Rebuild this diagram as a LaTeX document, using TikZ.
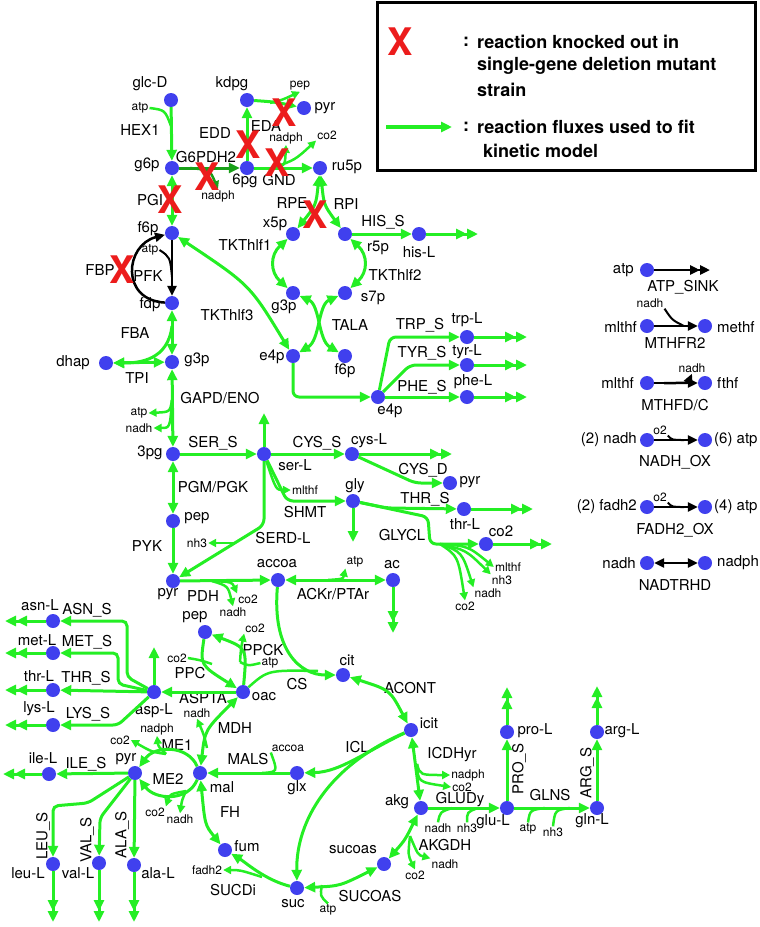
\documentclass[tikz,border=0pt]{standalone}
\usepackage{fontspec}
\setmainfont{TeX Gyre Heros}
\usetikzlibrary{arrows.meta}
\definecolor{MetBlue}{RGB}{64,64,238}
\definecolor{FluxGreen}{RGB}{36,238,36}
\definecolor{FluxDark}{RGB}{24,160,24}
\definecolor{KORed}{RGB}{236,28,28}

\begin{document}
\begin{tikzpicture}[x=1pt,y=-1pt,>={Triangle[length=11pt,width=10pt]},
    met/.style={circle,fill=MetBlue,inner sep=0pt,minimum size=14pt},
    mlab/.style={font=\fontsize{15}{16}\selectfont,inner sep=0pt},
    rlab/.style={font=\fontsize{15}{16}\selectfont,inner sep=0pt},
    cof/.style={font=\fontsize{12}{13}\selectfont,inner sep=1pt},
    ko/.style={font=\bfseries\fontsize{38}{38}\selectfont,text=KORed,inner sep=0pt},
    leg/.style={font=\bfseries\fontsize{18}{20}\selectfont,inner sep=0pt,anchor=west},
    flux/.style={draw=FluxGreen,line width=3pt,->},
    both/.style={draw=FluxGreen,line width=3pt,<->},
    sink/.style={draw=FluxGreen,line width=3pt,->>},
    sflux/.style={draw=FluxGreen,line width=2.5pt,-{Triangle[length=8pt,width=8pt]}},
    side/.style={draw=FluxGreen,line width=2.5pt},
    blk/.style={draw=black,line width=2.5pt,-{Triangle[length=10pt,width=9pt]}},
    blkboth/.style={draw=black,line width=2.5pt,{Triangle[length=10pt,width=9pt]}-{Triangle[length=10pt,width=9pt]}},
    blksink/.style={draw=black,line width=2.5pt,-{Triangle[length=10pt,width=9pt]Triangle[length=10pt,width=9pt]}},
    blkside/.style={draw=black,line width=2pt}]
\useasboundingbox (0,0) rectangle (760,927);

% legend
\draw[line width=3pt] (377,2) rectangle (755,170);
\node[ko] (legX) at (400,42) {X};
\node[leg] (legc1) at (463,42) {:};
\node[leg] (leg1) at (477,42) {reaction knocked out in};
\node[leg] (leg2) at (477,66) {single-gene deletion mutant};
\node[leg] (leg3) at (477,90) {strain};
\coordinate (legA) at (386,127);
\coordinate (legB) at (452,127);
\draw[flux,line width=4pt] (legA) -- (legB);
\node[leg] (legc2) at (463,127) {:};
\node[leg] (leg4) at (477,127) {reaction fluxes used to fit};
\node[leg] (leg5) at (483,151) {kinetic model};

% metabolites
\node[met] (glcD) at (171,100) {};
\node[met] (g6p) at (172,168) {};
\node[met] (kdpg) at (247,100) {};
\node[met] (pyrE) at (304,108) {};
\node[met] (pg6) at (247,168) {};
\node[met] (ru5p) at (320,168) {};
\node[met] (f6p) at (172,233) {};
\node[met] (fdp) at (172,303) {};
\node[met] (g3p) at (172,362) {};
\node[met] (dhap) at (106,363) {};
\node[met] (pg3) at (173,454) {};
\node[met] (pep) at (173,521) {};
\node[met] (pyr) at (173,581) {};
\node[met] (x5p) at (293,234) {};
\node[met] (r5p) at (345,234) {};
\node[met] (hisL) at (419,234) {};
\node[met] (g3pT) at (293,293) {};
\node[met] (s7p) at (345,293) {};
\node[met] (e4p) at (293,356) {};
\node[met] (f6pT) at (345,356) {};
\node[met] (e4pA) at (378,397) {};
\node[met] (trpL) at (467,337) {};
\node[met] (tyrL) at (467,365) {};
\node[met] (pheL) at (467,397) {};
\node[met] (serL) at (264,454) {};
\node[met] (cysL) at (352,454) {};
\node[met] (pyrC) at (450,483) {};
\node[met] (gly) at (353,501) {};
\node[met] (thrL) at (464,509) {};
\node[met] (co2) at (486,544) {};
\node[met] (accoa) at (278,580) {};
\node[met] (ac) at (393,580) {};
\node[met] (pepO) at (205,632) {};
\node[met] (oac) at (243,692) {};
\node[met] (aspL) at (154,692) {};
\node[met] (asnL) at (53,621) {};
\node[met] (metL) at (53,653) {};
\node[met] (thrLa) at (53,690) {};
\node[met] (lysL) at (53,725) {};
\node[met] (cit) at (343,675) {};
\node[met] (icit) at (411,730) {};
\node[met] (ileL) at (49,774) {};
\node[met] (pyrM) at (135,773) {};
\node[met] (mal) at (200,773) {};
\node[met] (glx) at (297,773) {};
\node[met] (akg) at (421,808) {};
\node[met] (gluL) at (507,808) {};
\node[met] (glnL) at (597,808) {};
\node[met] (proL) at (507,732) {};
\node[met] (argL) at (597,732) {};
\node[met] (leuL) at (53,864) {};
\node[met] (valL) at (99,863) {};
\node[met] (alaL) at (134,865) {};
\node[met] (fum) at (225,850) {};
\node[met] (suc) at (297,888) {};
\node[met] (sucoas) at (384,864) {};
\node[met] (atpS) at (647,270) {};
\node[met] (mlthfA) at (647,326) {};
\node[met] (methf) at (705,326) {};
\node[met] (mlthfB) at (647,383) {};
\node[met] (fthf) at (705,383) {};
\node[met] (nadhO) at (647,440) {};
\node[met] (atpO) at (705,440) {};
\node[met] (fadhF) at (647,507) {};
\node[met] (atpF) at (705,507) {};
\node[met] (nadhT) at (647,563) {};
\node[met] (nadphT) at (705,563) {};

% metabolite names
\node[mlab] (t-glcD) at (150,84) {glc-D};
\node[mlab] (t-g6p) at (147,165) {g6p};
\node[mlab] (t-kdpg) at (232,84) {kdpg};
\node[mlab] (t-pyrE) at (325,108) {pyr};
\node[mlab] (t-pg6) at (245,181) {6pg};
\node[mlab] (t-ru5p) at (347,167) {ru5p};
\node[mlab] (t-f6p) at (148,229) {f6p};
\node[mlab] (t-fdp) at (150,305) {fdp};
\node[mlab] (t-g3p) at (197,360) {g3p};
\node[mlab] (t-dhap) at (73,363) {dhap};
\node[mlab] (t-pg3) at (150,453) {3pg};
\node[mlab] (t-pep) at (197,518) {pep};
\node[mlab] (t-pyr) at (168,594) {pyr};
\node[mlab] (t-x5p) at (275,224) {x5p};
\node[mlab] (t-r5p) at (378,248) {r5p};
\node[mlab] (t-hisL) at (419,252) {his-L};
\node[mlab] (t-g3pT) at (284,307) {g3p};
\node[mlab] (t-s7p) at (373,298) {s7p};
\node[mlab] (t-e4p) at (272,357) {e4p};
\node[mlab] (t-f6pT) at (345,371) {f6p};
\node[mlab] (t-e4pA) at (390,411) {e4p};
\node[mlab] (t-trpL) at (467,320) {trp-L};
\node[mlab] (t-tyrL) at (467,352) {tyr-L};
\node[mlab] (t-pheL) at (473,382) {phe-L};
\node[mlab] (t-serL) at (295,465) {ser-L};
\node[mlab] (t-cysL) at (369,441) {cys-L};
\node[mlab] (t-pyrC) at (470,482) {pyr};
\node[mlab] (t-gly) at (355,486) {gly};
\node[mlab] (t-thrL) at (465,524) {thr-L};
\node[mlab] (t-co2) at (501,531) {co2};
\node[mlab] (t-accoa) at (277,564) {accoa};
\node[mlab] (t-ac) at (392,565) {ac};
\node[mlab] (t-pepO) at (195,617) {pep};
\node[mlab] (t-oac) at (264,697) {oac};
\node[mlab] (t-aspL) at (154,711) {asp-L};
\node[mlab] (t-asnL) at (40,605) {asn-L};
\node[mlab] (t-metL) at (37,640) {met-L};
\node[mlab] (t-thrLa) at (39,676) {thr-L};
\node[mlab] (t-lysL) at (39,709) {lys-L};
\node[mlab] (t-cit) at (347,660) {cit};
\node[mlab] (t-icit) at (429,723) {icit};
\node[mlab] (t-ileL) at (43,758) {ile-L};
\node[mlab] (t-pyrM) at (126,759) {pyr};
\node[mlab] (t-mal) at (222,787) {mal};
\node[mlab] (t-glx) at (297,788) {glx};
\node[mlab] (t-akg) at (397,802) {akg};
\node[mlab] (t-gluL) at (493,822) {glu-L};
\node[mlab] (t-glnL) at (592,821) {gln-L};
\node[mlab] (t-proL) at (535,731) {pro-L};
\node[mlab] (t-argL) at (622,731) {arg-L};
\node[mlab] (t-leuL) at (28,873) {leu-L};
\node[mlab] (t-valL) at (78,873) {val-L};
\node[mlab] (t-alaL) at (158,873) {ala-L};
\node[mlab] (t-fum) at (247,846) {fum};
\node[mlab] (t-suc) at (293,904) {suc};
\node[mlab] (t-sucoas) at (353,850) {sucoas};
\node[mlab,anchor=east] (t-atpS) at (634,270) {atp};
\node[mlab,anchor=east] (t-mlthfA) at (637,327) {mlthf};
\node[mlab,anchor=west] (t-methf) at (717,327) {methf};
\node[mlab,anchor=east] (t-mlthfB) at (634,383) {mlthf};
\node[mlab,anchor=west] (t-fthf) at (717,383) {fthf};
\node[mlab,anchor=east] (t-nadhO) at (637,440) {(2) nadh};
\node[mlab,anchor=west] (t-atpO) at (714,440) {(6) atp};
\node[mlab,anchor=east] (t-fadhF) at (637,507) {(2) fadh2};
\node[mlab,anchor=west] (t-atpF) at (714,507) {(4) atp};
\node[mlab,anchor=east] (t-nadhT) at (636,563) {nadh};
\node[mlab,anchor=west] (t-nadphT) at (717,563) {nadph};

% reaction names
\node[rlab] (r-hex) at (140,130) {HEX1};
\node[rlab] (r-g6pdh) at (206,157) {G6PDH2};
\node[rlab] (r-edd) at (215,133) {EDD};
\node[rlab] (r-eda) at (266,126) {EDA};
\node[rlab] (r-gnd) at (279,180) {GND};
\node[rlab] (r-pgi) at (150,200) {PGI};
\node[rlab] (r-fbp) at (100,270) {FBP};
\node[rlab] (r-pfk) at (148,276) {PFK};
\node[rlab] (r-fba) at (135,333) {FBA};
\node[rlab] (r-tpi) at (137,378) {TPI};
\node[rlab] (r-gapd) at (220,398) {GAPD/ENO};
\node[rlab] (r-pgm) at (213,487) {PGM/PGK};
\node[rlab] (r-pyk) at (147,546) {PYK};
\node[rlab] (r-rpe) at (292,203) {RPE};
\node[rlab] (r-rpi) at (346,204) {RPI};
\node[rlab] (r-his) at (383,222) {HIS\_S};
\node[rlab] (r-tk1) at (245,245) {TKThlf1};
\node[rlab] (r-tk2) at (395,275) {TKThlf2};
\node[rlab] (r-tk3) at (227,315) {TKThlf3};
\node[rlab] (r-tala) at (350,325) {TALA};
\node[rlab] (r-trp) at (420,325) {TRP\_S};
\node[rlab] (r-tyr) at (422,353) {TYR\_S};
\node[rlab] (r-phe) at (422,387) {PHE\_S};
\node[rlab] (r-ser) at (213,443) {SER\_S};
\node[rlab] (r-cys) at (317,443) {CYS\_S};
\node[rlab] (r-cysd) at (423,470) {CYS\_D};
\node[rlab] (r-shmt) at (305,512) {SHMT};
\node[rlab] (r-serd) at (283,538) {SERD-L};
\node[rlab] (r-thr) at (425,499) {THR\_S};
\node[rlab] (r-glycl) at (402,535) {GLYCL};
\node[rlab] (r-pdh) at (203,596) {PDH};
\node[rlab] (r-ack) at (333,594) {ACKr/PTAr};
\node[rlab] (r-asn) at (87,610) {ASN\_S};
\node[rlab] (r-met) at (87,642) {MET\_S};
\node[rlab] (r-thra) at (86,678) {THR\_S};
\node[rlab] (r-lys) at (88,714) {LYS\_S};
\node[rlab] (r-ppc) at (190,673) {PPC};
\node[rlab] (r-ppck) at (263,650) {PPCK};
\node[rlab] (r-aspta) at (203,698) {ASPTA};
\node[rlab] (r-mdh) at (235,728) {MDH};
\node[rlab] (r-cs) at (297,684) {CS};
\node[rlab] (r-acont) at (410,688) {ACONT};
\node[rlab] (r-icl) at (357,747) {ICL};
\node[rlab] (r-icdh) at (452,755) {ICDHyr};
\node[rlab] (r-me1) at (177,745) {ME1};
\node[rlab] (r-me2) at (168,779) {ME2};
\node[rlab] (r-mals) at (248,759) {MALS};
\node[rlab] (r-ile) at (86,764) {ILE\_S};
\node[rlab,rotate=90] (r-leu) at (43,836) {LEU\_S};
\node[rlab,rotate=90] (r-val) at (87,840) {VAL\_S};
\node[rlab,rotate=90] (r-ala) at (122,835) {ALA\_S};
\node[rlab] (r-fh) at (230,812) {FH};
\node[rlab] (r-sucd) at (233,890) {SUCDi};
\node[rlab] (r-sucoas) at (370,896) {SUCOAS};
\node[rlab] (r-akgdh) at (445,845) {AKGDH};
\node[rlab] (r-glud) at (460,800) {GLUDy};
\node[rlab,rotate=90] (r-pro) at (519,769) {PRO\_S};
\node[rlab] (r-glns) at (550,795) {GLNS};
\node[rlab,rotate=90] (r-arg) at (587,773) {ARG\_S};
\node[rlab] (r-sink) at (683,287) {ATP\_SINK};
\node[rlab] (r-mthfr) at (675,343) {MTHFR2};
\node[rlab] (r-mthfd) at (675,405) {MTHFD/C};
\node[rlab] (r-nadhox) at (675,462) {NADH\_OX};
\node[rlab] (r-fadhox) at (675,530) {FADH2\_OX};
\node[rlab] (r-nadtr) at (675,585) {NADTRHD};

% cofactors
\node[cof] (c-hexatp) at (140,108) {atp};
\node[cof] (c-edapep) at (300,86) {pep};
\node[cof] (c-gndnadph) at (286,138) {nadph};
\node[cof] (c-gndco2) at (327,135) {co2};
\node[cof] (c-g6pnadph) at (218,196) {nadph};
\node[cof] (c-pfkatp) at (150,250) {atp};
\node[cof] (c-gapatp) at (139,413) {atp};
\node[cof] (c-gapnadh) at (139,428) {nadh};
\node[cof] (c-shmt) at (305,490) {mlthf};
\node[cof] (c-serdnh3) at (197,543) {nh3};
\node[cof] (c-gcmlthf) at (508,567) {mlthf};
\node[cof] (c-gcnh3) at (502,580) {nh3};
\node[cof] (c-gcnadh) at (488,593) {nadh};
\node[cof] (c-gcco2) at (465,606) {co2};
\node[cof] (c-pdhco2) at (248,599) {co2};
\node[cof] (c-pdhnadh) at (233,612) {nadh};
\node[cof] (c-ackatp) at (355,562) {atp};
\node[cof] (c-ppcco2) at (177,658) {co2};
\node[cof] (c-ppckco2) at (255,628) {co2};
\node[cof] (c-ppckatp) at (270,663) {atp};
\node[cof] (c-mdhnadh) at (197,713) {nadh};
\node[cof] (c-me1nadph) at (157,729) {nadph};
\node[cof] (c-me1co2) at (120,740) {co2};
\node[cof] (c-me2co2) at (155,812) {co2};
\node[cof] (c-me2nadh) at (180,819) {nadh};
\node[cof] (c-malsacc) at (288,748) {accoa};
\node[cof] (c-icnadph) at (468,775) {nadph};
\node[cof] (c-icco2) at (462,787) {co2};
\node[cof] (c-gdnadh) at (438,828) {nadh};
\node[cof] (c-gdnh3) at (467,828) {nh3};
\node[cof] (c-glnsatp) at (528,829) {atp};
\node[cof] (c-glnsnh3) at (553,832) {nh3};
\node[cof] (c-akgnadh) at (445,864) {nadh};
\node[cof] (c-akgco2) at (415,875) {co2};
\node[cof] (c-fadh2) at (207,870) {fadh2};
\node[cof] (c-sucatp) at (328,910) {atp};
\node[cof] (c-mthnadh) at (650,303) {nadh};
\node[cof] (c-mfdnadh) at (692,368) {nadh};
\node[cof] (c-oxo2) at (660,430) {o2};
\node[cof] (c-fado2) at (660,497) {o2};

% free ends and branch points
\coordinate (hisLx) at (478,234);
\coordinate (trpLx) at (527,337);
\coordinate (tyrLx) at (527,365);
\coordinate (pheLx) at (527,397);
\coordinate (cysLx) at (452,454);
\coordinate (thrLx) at (533,509);
\coordinate (co2x) at (552,544);
\coordinate (serLx) at (264,413);
\coordinate (glyx) at (353,542);
\coordinate (acx) at (393,633);
\coordinate (aspLx) at (154,647);
\coordinate (asnLx) at (5,621);
\coordinate (metLx) at (5,653);
\coordinate (thrLax) at (5,690);
\coordinate (lysLx) at (5,725);
\coordinate (ileLx) at (3,774);
\coordinate (leuLx) at (53,922);
\coordinate (valLx) at (99,922);
\coordinate (alaLx) at (134,922);
\coordinate (proLx) at (507,687);
\coordinate (argLx) at (597,686);
\coordinate (atpSx) at (710,270);
\coordinate (hexj) at (171,126);
\coordinate (edaj) at (270,103);
\coordinate (gndj) at (272,168);
\coordinate (g6pj) at (190,168);
\coordinate (pfkj) at (172,277);
\coordinate (fbaj) at (172,326);
\coordinate (gapj) at (172,400);
\coordinate (serdj) at (235,543);
\coordinate (glycj) at (440,544);
\coordinate (pdhj) at (212,581);
\coordinate (ackj) at (328,580);
\coordinate (csj) at (318,671);
\coordinate (ppcj) at (212,664);
\coordinate (ppckj) at (240,662);
\coordinate (mdhj) at (207,748);
\coordinate (me1j) at (166,754);
\coordinate (me2j) at (186,791);
\coordinate (malsj) at (262,773);
\coordinate (icdhj) at (417,764);
\coordinate (akgdhj) at (410,836);
\coordinate (gludj1) at (452,808);
\coordinate (gludj2) at (478,808);
\coordinate (glnsj1) at (545,808);
\coordinate (glnsj2) at (570,808);
\coordinate (sucdj) at (262,877);
\coordinate (sucoasj) at (322,885);
\coordinate (mthj) at (684,326);
\coordinate (mfdj) at (664,383);
\coordinate (oxj) at (684,440);
\coordinate (fadj) at (684,507);

% glycolysis and pentose phosphate
\draw[flux] (glcD) -- (g6p);
\draw[side] (c-hexatp.east) .. controls (165,110) .. (hexj);
\draw[flux,draw=FluxDark] (g6p) -- (pg6);
\draw[sflux,draw=FluxDark] (g6pj) .. controls (210,170) .. (c-g6pnadph.north);
\draw[flux] (pg6) -- (kdpg);
\draw[flux] (kdpg) .. controls (275,102) .. (pyrE);
\draw[sflux] (edaj) .. controls (282,100) .. (c-edapep.south);
\draw[flux] (pg6) -- (ru5p);
\draw[sflux] (gndj) .. controls (285,166) .. (c-gndnadph.south);
\draw[sflux] (gndj) .. controls (295,160) .. (c-gndco2.south west);
\draw[both] (g6p) -- (f6p);
\draw[blk] (f6p) -- (fdp);
\draw[blkside] (c-pfkatp.east) .. controls (170,257) .. (pfkj);
\draw[blk] (fdp) .. controls (120,300) and (125,245) .. (f6p);
\draw[both] (fdp) -- (g3p);
\draw[flux] (fbaj) .. controls (168,360) and (140,363) .. (dhap);
\draw[both] (dhap) -- (g3p);
\draw[both] (g3p) -- (pg3);
\draw[sflux] (gapj) .. controls (170,412) .. (c-gapatp.east);
\draw[sflux] (gapj) .. controls (170,428) .. (c-gapnadh.east);
\draw[both] (pg3) -- (pep);
\draw[flux] (pep) -- (pyr);
\draw[both] (ru5p) .. controls (316,205) .. (x5p);
\draw[both] (ru5p) .. controls (324,205) .. (r5p);
\draw[both] (x5p) .. controls (270,255) and (270,272) .. (g3pT);
\draw[both] (r5p) .. controls (368,255) and (368,272) .. (s7p);
\draw[both] (g3pT) .. controls (320,305) and (318,340) .. (f6pT);
\draw[both] (s7p) .. controls (318,305) and (320,340) .. (e4p);
\draw[both] (e4p) .. controls (250,285) .. (f6p);
\draw[flux] (r5p) -- (hisL);
\draw[sink] (hisL) -- (hisLx);
\draw[flux,rounded corners=6pt] (e4p) -- (293,397) -- (e4pA);
\draw[flux,rounded corners=6pt] (e4pA) -- (390,337) -- (trpL);
\draw[flux,rounded corners=6pt] (e4pA) -- (410,365) -- (tyrL);
\draw[flux] (e4pA) -- (pheL);
\draw[sink] (trpL) -- (trpLx);
\draw[sink] (tyrL) -- (tyrLx);
\draw[sink] (pheL) -- (pheLx);

% serine, glycine, cysteine
\draw[flux] (pg3) -- (serL);
\draw[flux] (serL) -- (serLx);
\draw[flux] (serL) -- (cysL);
\draw[sink] (cysL) -- (cysLx);
\draw[flux,rounded corners=6pt] (cysL) -- (415,483) -- (pyrC);
\draw[flux,rounded corners=6pt] (serL) -- (287,501) -- (gly);
\draw[sflux] (serL) .. controls (276,490) .. (c-shmt.west);
\draw[flux,rounded corners=6pt] (serL) -- (264,525) -- (pyr);
\draw[sflux] (serdj) -- (c-serdnh3.east);
\draw[flux] (gly) -- (glyx);
\draw[flux,rounded corners=6pt] (gly) -- (387,508) -- (thrL);
\draw[sink] (thrL) -- (thrLx);
\draw[flux,rounded corners=6pt] (gly) -- (428,517) -- (430,544) -- (co2);
\draw[sink] (co2) -- (co2x);
\draw[sflux] (glycj) .. controls (468,546) .. (c-gcmlthf.west);
\draw[sflux] (glycj) .. controls (466,550) .. (c-gcnh3.north west);
\draw[sflux] (glycj) .. controls (462,552) .. (c-gcnadh.north west);
\draw[sflux] (glycj) .. controls (458,556) .. (c-gcco2.north);

% pyruvate, acetyl-CoA, anaplerosis
\draw[flux] (pyr) -- (accoa);
\draw[sflux] (pdhj) .. controls (232,582) .. (c-pdhco2.north west);
\draw[sflux] (pdhj) .. controls (228,586) .. (c-pdhnadh.north);
\draw[both] (ac) -- (accoa);
\draw[sflux] (ackj) .. controls (343,579) .. (c-ackatp.south west);
\draw[sink] (ac) -- (acx);
\draw[flux] (pepO) .. controls (200,665) .. (oac);
\draw[side] (c-ppcco2.east) .. controls (200,660) .. (ppcj);
\draw[flux] (oac) .. controls (247,648) .. (pepO);
\draw[sflux] (ppckj) .. controls (241,648) .. (c-ppckco2.south west);
\draw[side] (c-ppckatp.west) .. controls (248,666) .. (ppckj);
\draw[flux] (oac) -- (aspL);
\draw[flux] (aspL) -- (aspLx);
\draw[flux,rounded corners=5pt] (aspL) -- (127,677) -- (127,621) -- (asnL);
\draw[flux,rounded corners=5pt] (aspL) -- (118,684) -- (118,653) -- (metL);
\draw[flux] (aspL) -- (thrLa);
\draw[flux,rounded corners=5pt] (aspL) -- (118,725) -- (lysL);
\draw[sink] (asnL) -- (asnLx);
\draw[sink] (metL) -- (metLx);
\draw[sink] (thrLa) -- (thrLax);
\draw[sink] (lysL) -- (lysLx);

% TCA cycle and glyoxylate shunt
\draw[flux] (accoa) .. controls (272,650) and (300,675) .. (cit);
\draw[side] (oac) .. controls (268,670) .. (csj);
\draw[both] (cit) .. controls (390,690) .. (icit);
\draw[both] (icit) -- (akg);
\draw[sflux] (icdhj) .. controls (420,775) .. (c-icnadph.west);
\draw[sflux] (icdhj) .. controls (418,782) .. (c-icco2.west);
\draw[flux] (icit) .. controls (365,752) and (340,772) .. (glx);
\draw[flux] (icit) .. controls (330,765) and (296,820) .. (suc);
\draw[flux] (glx) -- (mal);
\draw[side] (c-malsacc.south west) .. controls (278,772) .. (malsj);
\draw[both] (mal) .. controls (205,730) .. (oac);
\draw[sflux] (mdhj) .. controls (204,735) .. (c-mdhnadh.south);
\draw[flux] (mal) .. controls (188,745) and (155,745) .. (pyrM);
\draw[sflux] (me1j) .. controls (152,752) .. (c-me1co2.east);
\draw[sflux] (me1j) .. controls (158,746) .. (c-me1nadph.south);
\draw[flux] (mal) .. controls (188,802) and (155,800) .. (pyrM);
\draw[sflux] (me2j) .. controls (170,794) .. (c-me2co2.north east);
\draw[sflux] (me2j) .. controls (182,800) .. (c-me2nadh.north);
\draw[both] (mal) .. controls (205,825) .. (fum);
\draw[flux] (suc) .. controls (265,880) and (245,862) .. (fum);
\draw[sflux] (sucdj) .. controls (240,870) .. (c-fadh2.east);
\draw[both] (suc) .. controls (340,886) .. (sucoas);
\draw[side] (c-sucatp.north) .. controls (320,896) .. (sucoasj);
\draw[both] (akg) .. controls (405,840) .. (sucoas);
\draw[sflux] (akgdhj) .. controls (408,855) .. (c-akgco2.north);
\draw[sflux] (akgdhj) .. controls (418,855) .. (c-akgnadh.north west);
\draw[flux] (akg) -- (gluL);
\draw[side] (c-gdnadh.north) .. controls (440,812) .. (gludj1);
\draw[side] (c-gdnh3.north) .. controls (467,812) .. (gludj2);
\draw[flux] (gluL) -- (proL);
\draw[sink] (proL) -- (proLx);
\draw[flux] (gluL) -- (glnL);
\draw[side] (c-glnsatp.north) .. controls (530,810) .. (glnsj1);
\draw[side] (c-glnsnh3.north) .. controls (555,810) .. (glnsj2);
\draw[flux] (glnL) -- (argL);
\draw[sink] (argL) -- (argLx);

% amino acids from pyruvate
\draw[flux] (pyrM) -- (ileL);
\draw[sink] (ileL) -- (ileLx);
\draw[flux,rounded corners=5pt] (pyrM) -- (88,803) -- (53,806) -- (leuL);
\draw[flux,rounded corners=5pt] (pyrM) -- (100,818) -- (valL);
\draw[flux] (pyrM) -- (alaL);
\draw[sink] (leuL) -- (leuLx);
\draw[sink] (valL) -- (valLx);
\draw[sink] (alaL) -- (alaLx);

% cofactor reactions
\draw[blksink] (atpS) -- (atpSx);
\draw[blk] (mlthfA) -- (methf);
\draw[blkside] (c-mthnadh.south east) .. controls (672,320) .. (mthj);
\draw[blk] (mlthfB) -- (fthf);
\draw[blk] (mfdj) .. controls (688,383) .. (c-mfdnadh.south);
\draw[blk] (nadhO) -- (atpO);
\draw[blkside] (c-oxo2.south east) .. controls (672,440) .. (oxj);
\draw[blk] (fadhF) -- (atpF);
\draw[blkside] (c-fado2.south east) .. controls (672,507) .. (fadj);
\draw[blkboth] (nadhT) -- (nadphT);

% knockouts
\node[ko] (ko-pgi) at (170,200) {X};
\node[ko] (ko-g6pdh) at (207,177) {X};
\node[ko] (ko-edd) at (248,145) {X};
\node[ko] (ko-gnd) at (277,163) {X};
\node[ko] (ko-eda) at (284,113) {X};
\node[ko] (ko-rpe) at (315,215) {X};
\node[ko] (ko-fbp) at (122,270) {X};
\end{tikzpicture}
\end{document}
